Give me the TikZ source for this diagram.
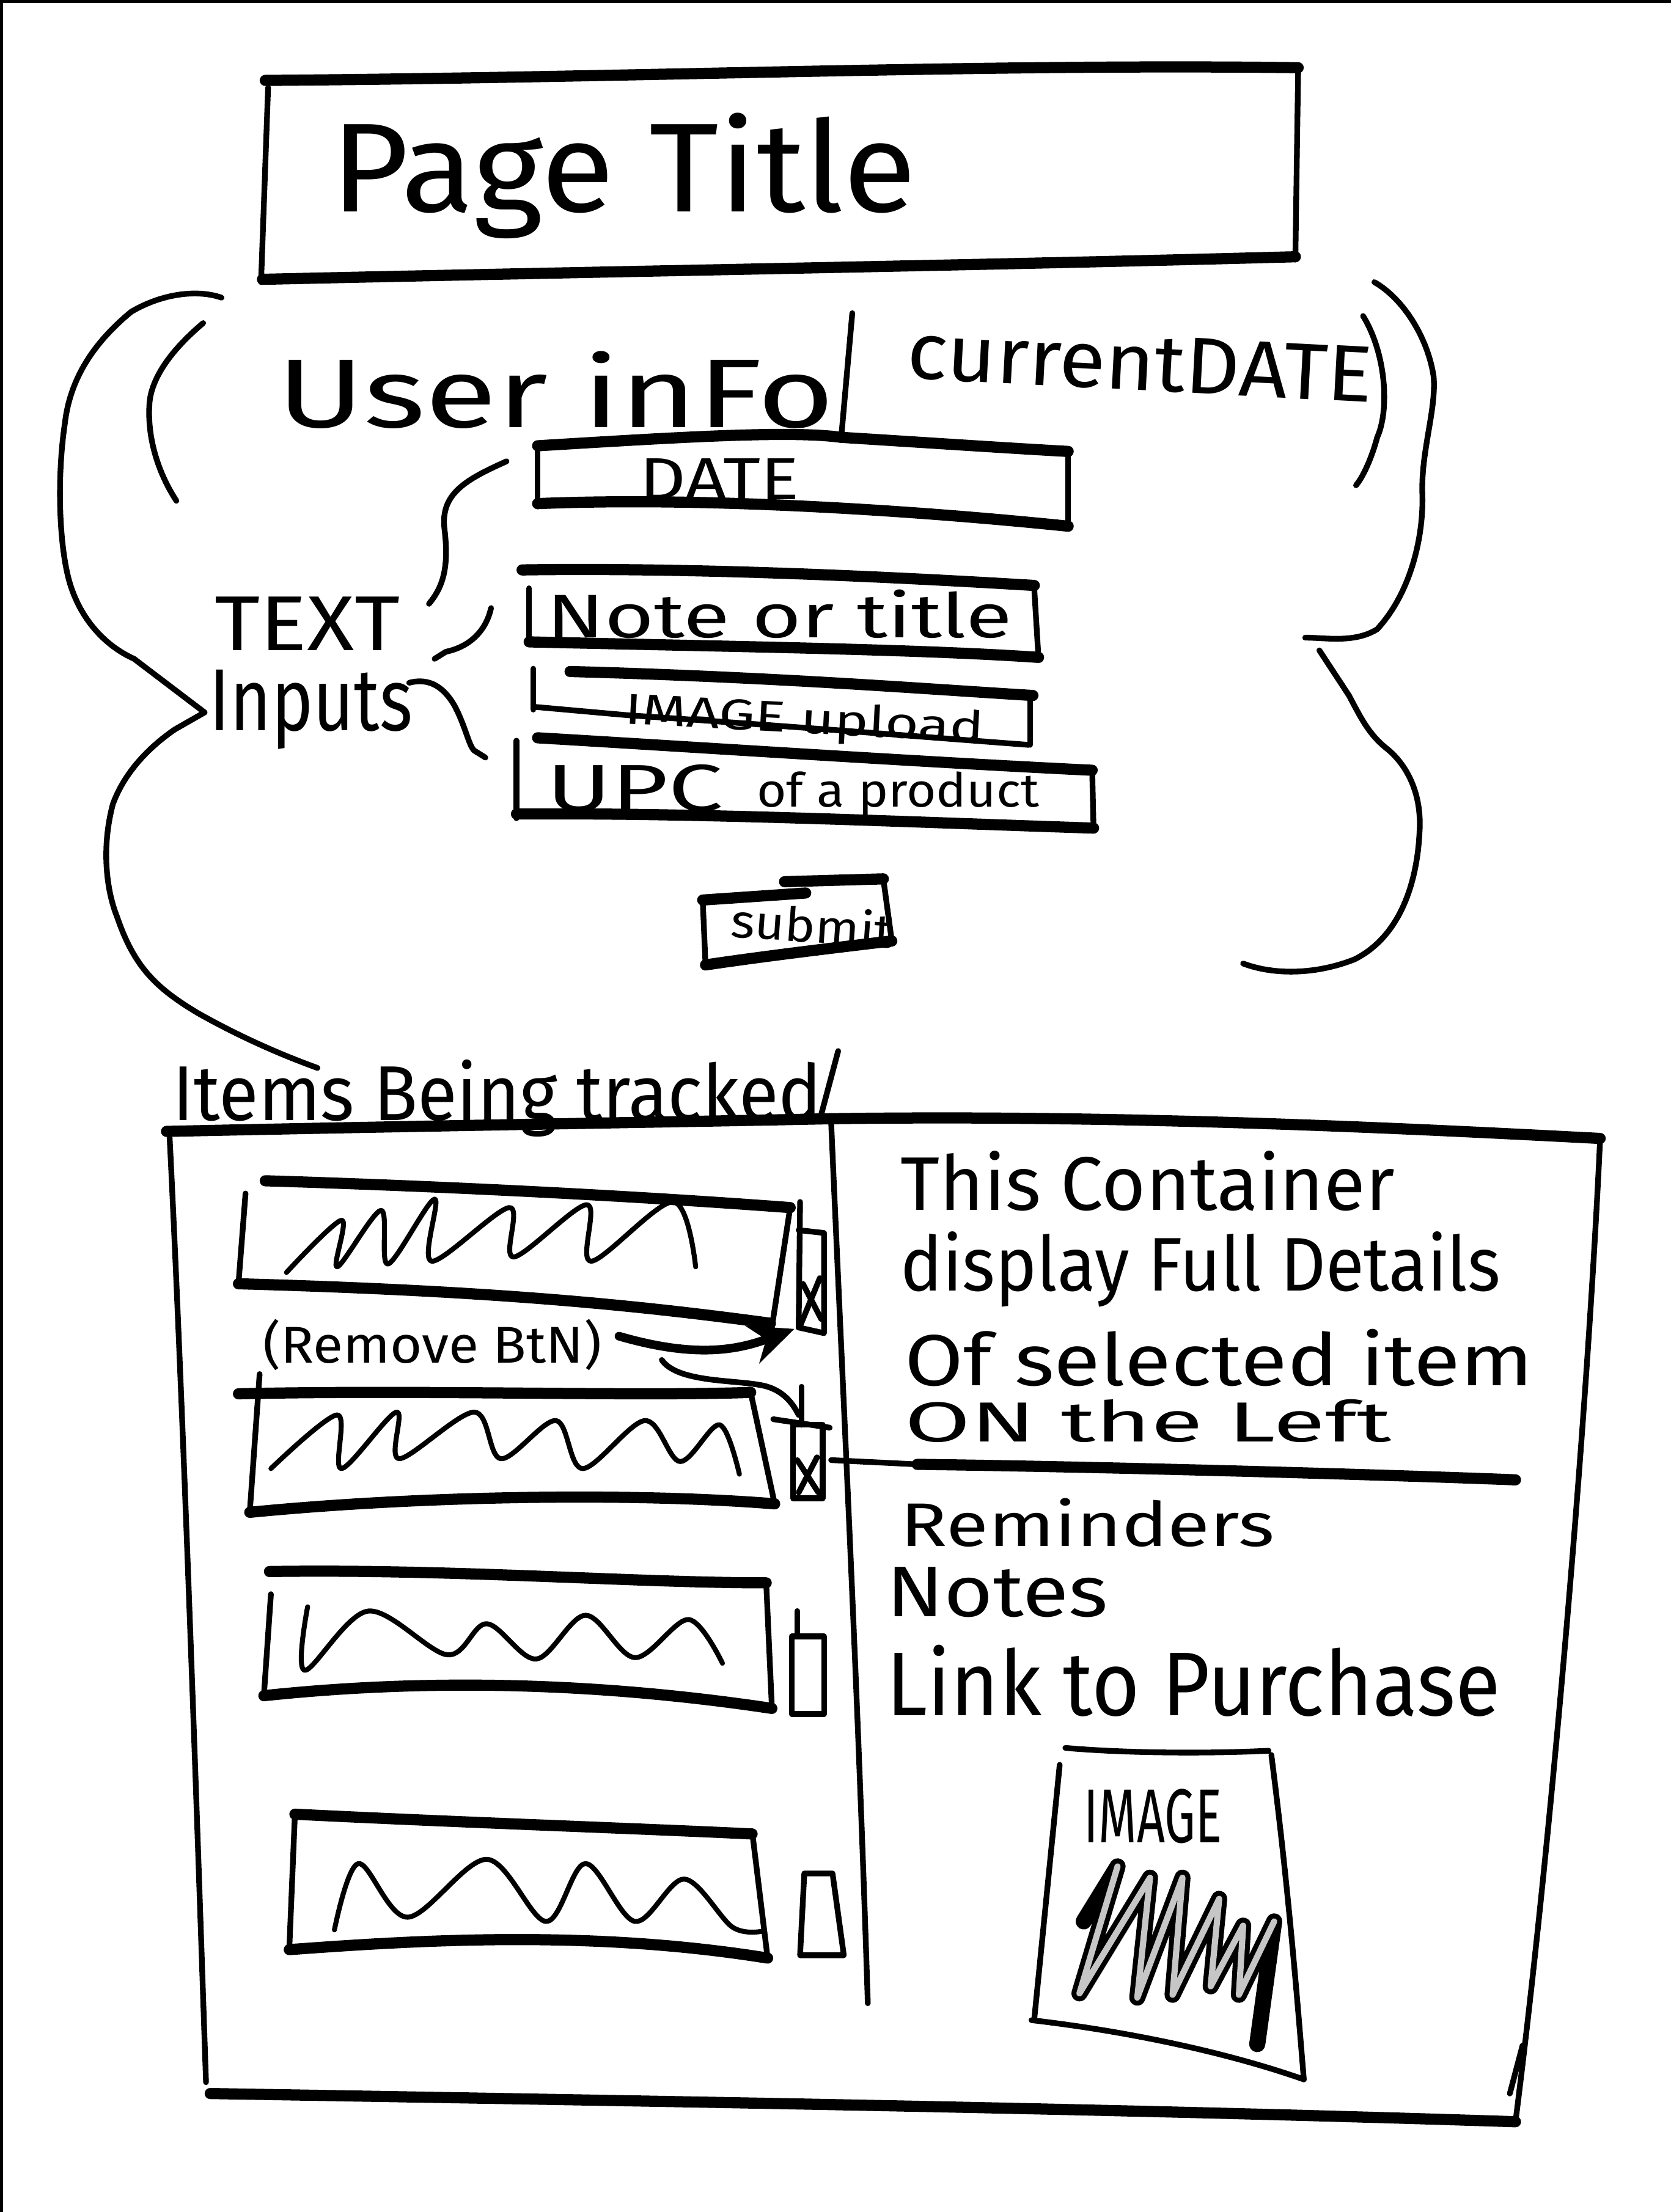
\documentclass[tikz,border=0pt]{standalone}
\usepackage{fontspec}
\setmainfont{Fira Sans}
\usepackage{graphicx}
\usetikzlibrary{arrows.meta}
\newcommand{\fitwh}[3]{\resizebox{#1}{#2}{#3}}
\begin{document}
\begin{tikzpicture}[x=0.02cm,y=-0.02cm,
  pen/.style={line width=2.3pt,line cap=round,line join=round},
  marker/.style={line width=4.5pt,line cap=round,line join=round},
  wavy/.style={line width=2pt,line cap=round,line join=round},
  lbl/.style={inner sep=0pt,anchor=base west}]
\useasboundingbox (0,0) rectangle (1184,1568);
% scan border
\draw[line width=1.5pt] (0,1) -- (1184,1);
\draw[line width=1.5pt] (1,0) -- (1,1568);

% ---------- Page title ----------
\draw[pen] (190,62) -- (185,200);
\draw[pen] (920,48) -- (918,184);
\draw[marker] (188,57) .. controls (450,55) and (700,45) .. (920,48);
\draw[marker] (186,198) .. controls (450,192) and (700,188) .. (918,182);
\node[lbl] (title) at (234,150) {\fitwh{8.3cm}{1.4cm}{Page Title}};

% ---------- cloud / braces ----------
\draw[pen] (157,211) .. controls (140,205) and (115,208) .. (93,221)
  .. controls (70,240) and (50,265) .. (46,300)
  .. controls (40,340) and (42,390) .. (50,415)
  .. controls (58,440) and (75,458) .. (95,467) -- (145,505) -- (124,517)
  .. controls (105,530) and (88,548) .. (80,570)
  .. controls (72,600) and (75,630) .. (83,650)
  .. controls (95,685) and (110,700) .. (140,718)
  .. controls (170,735) and (200,748) .. (225,757);
\draw[pen] (144,229) .. controls (125,245) and (108,265) .. (106,285)
  .. controls (104,310) and (112,335) .. (125,355);
\draw[pen] (974,200) .. controls (995,212) and (1012,240) .. (1016,267)
  .. controls (1018,290) and (1007,320) .. (1008,350)
  .. controls (1009,380) and (1000,420) .. (976,446)
  .. controls (960,456) and (940,452) .. (925,452);
\draw[pen] (966,224) .. controls (982,250) and (985,290) .. (976,310)
  .. controls (972,325) and (966,338) .. (961,344);
\draw[pen] (935,461) -- (956,493) .. controls (965,510) and (970,520) .. (982,530)
  .. controls (995,540) and (1008,560) .. (1006,590)
  .. controls (1004,630) and (990,665) .. (960,680)
  .. controls (935,690) and (905,692) .. (881,683);

% ---------- user info ----------
\node[lbl] (user) at (196,303) {\fitwh{7.9cm}{1.08cm}{User inFo}};
\draw[pen] (604,222) -- (596,312);
\node[lbl,rotate=-3] (cdate) at (642,268) {\fitwh{6.6cm}{0.78cm}{currentDATE}};

% ---------- DATE box ----------
\draw[marker] (381,316) .. controls (480,310) and (560,305) .. (596,310)
  .. controls (660,314) and (720,318) .. (757,320);
\draw[pen] (381,316) -- (381,359);
\draw[pen] (757,319) -- (757,372);
\draw[marker] (381,357) .. controls (500,352) and (650,362) .. (757,373);
\node[lbl] (date) at (453,354) {\fitwh{2.26cm}{0.58cm}{DATE}};

% ---------- text inputs label + brace ----------
\node[lbl] (text) at (152,461) {\fitwh{2.62cm}{0.76cm}{TEXT}};
\node[lbl] (inputs) at (148,518) {\fitwh{2.88cm}{0.86cm}{Inputs}};
\draw[pen] (359,327) .. controls (330,340) and (312,350) .. (315,375)
  .. controls (318,400) and (315,415) .. (304,428);
\draw[pen] (348,431) .. controls (345,445) and (335,458) .. (316,462) -- (308,467);
\draw[pen] (290,484) .. controls (305,480) and (315,488) .. (322,500)
  .. controls (330,515) and (332,528) .. (336,532) -- (344,537);

% ---------- note or title ----------
\draw[marker] (370,404) .. controls (500,402) and (650,410) .. (733,415);
\draw[pen] (375,417) -- (375,455);
\draw[pen] (733,418) -- (736,467);
\draw[marker] (375,455) .. controls (500,458) and (650,460) .. (736,466);
\node[lbl] (note) at (387,452) {\fitwh{6.6cm}{0.68cm}{Note or title}};

% ---------- image upload ----------
\draw[marker] (404,476) .. controls (550,480) and (650,488) .. (732,493);
\draw[pen] (378,474) -- (378,503);
\draw[pen] (730,493) -- (730,528);
\draw[pen] (378,501) -- (445,507) .. controls (550,514) and (650,522) .. (729,528);
\node[lbl,rotate=-3] (imgup) at (442,513) {\fitwh{5.1cm}{0.46cm}{IMAGE upload}};

% ---------- UPC ----------
\draw[marker] (381,523) .. controls (500,530) and (650,540) .. (774,546);
\draw[pen] (366,525) -- (366,580);
\draw[pen] (774,545) -- (775,588);
\draw[marker] (366,577) .. controls (500,576) and (650,583) .. (775,587);
\node[lbl] (upc) at (387,575) {\fitwh{2.5cm}{0.66cm}{UPC}};
\node[lbl] (ofprod) at (536,572) {\fitwh{4.0cm}{0.5cm}{of a product}};

% ---------- submit ----------
\draw[marker] (498,638) -- (571,633);
\draw[marker] (556,625) -- (626,623);
\draw[pen] (626,623) -- (632,667);
\draw[pen] (498,638) -- (500,684);
\draw[marker] (500,684) .. controls (540,678) and (590,672) .. (632,667);
\node[lbl,rotate=-4] (submit) at (517,664) {\fitwh{2.3cm}{0.52cm}{submit}};

% ---------- items being tracked ----------
\node[lbl] (items) at (122,794) {\fitwh{9.2cm}{0.86cm}{Items Being tracked}};
\draw[pen] (582,790) -- (594,745);

% container
\draw[marker] (118,802) .. controls (300,798) and (500,795) .. (589,793)
  .. controls (800,790) and (1000,800) .. (1134,807);
\draw[pen] (120,802) .. controls (130,1000) and (140,1300) .. (146,1476);
\draw[marker] (149,1484) .. controls (500,1490) and (800,1495) .. (1074,1504);
\draw[pen] (1134,807) .. controls (1125,1000) and (1100,1300) .. (1074,1504);
\draw[pen] (1079,1450) -- (1070,1484);
\draw[pen] (589,795) .. controls (598,1000) and (608,1200) .. (615,1420);
\draw[pen] (589,1035) -- (650,1038);
\draw[marker] (650,1038) .. controls (800,1040) and (1000,1046) .. (1074,1049);

% item 1
\draw[marker] (188,837) .. controls (350,842) and (480,850) .. (560,856);
\draw[pen] (174,846) -- (169,910);
\draw[pen] (560,856) -- (547,941);
\draw[marker] (169,910) .. controls (350,915) and (450,925) .. (546,938);
\draw[wavy] plot[smooth,tension=0.55] coordinates {(203,902) (242,865) (239,898) (270,858) (275,896) (308,850) (306,894) (361,856) (364,891) (416,854) (419,894) (477,852) (493,898)};
\draw[pen] (567,852) -- (566,941);
\draw[pen] (566,872) -- (584,874) -- (584,945) -- (566,941);
\draw[pen] (569,910) -- (582,935);
\draw[pen] (581,906) -- (567,940);
\coordinate (b1) at (563,942);

% remove btn
\node[lbl] (rmv) at (186,966) {\fitwh{4.8cm}{0.62cm}{(Remove BtN)}};
\draw[line width=3.5pt,line cap=round,-{Stealth[length=18pt,width=16pt]}] (rmv.east) ++(12,-6) .. controls (490,962) and (520,958) .. (b1);
\coordinate (b2) at (566,1003);
\draw[pen] (469,964) .. controls (480,980) and (520,978) .. (540,982)
  .. controls (555,985) and (562,995) .. (b2);

% item 2
\draw[marker] (169,988) .. controls (300,985) and (450,990) .. (532,987);
\draw[pen] (184,974) -- (177,1072);
\draw[pen] (532,987) -- (549,1066);
\draw[marker] (177,1072) .. controls (300,1060) and (450,1058) .. (549,1066);
\draw[wavy] plot[smooth,tension=0.55] coordinates {(192,1041) (239,1003) (242,1041) (281,1001) (283,1034) (336,1001) (355,1034) (394,1007) (413,1041) (457,1007) (482,1036) (510,1010) (524,1045)};
\draw[pen] (568,983) -- (568,1010);
\draw[pen] (562,1010) rectangle (583,1062);
\draw[pen] (548,1006) -- (588,1012);
\draw[pen] (565,1035) -- (580,1058);
\draw[pen] (579,1033) -- (566,1058);

% item 3
\draw[marker] (191,1114) .. controls (320,1112) and (450,1122) .. (543,1122);
\draw[pen] (192,1130) -- (187,1202);
\draw[pen] (543,1122) -- (547,1210);
\draw[marker] (187,1202) .. controls (300,1190) and (420,1192) .. (547,1211);
\draw[wavy] plot[smooth,tension=0.55] coordinates {(218,1139) (216,1184) (261,1142) (317,1173) (345,1151) (380,1176) (415,1145) (450,1175) (488,1148) (512,1179)};
\draw[pen] (565,1142) -- (565,1160);
\draw[pen] (561,1160) rectangle (584,1215);

% item 4
\draw[marker] (209,1286) .. controls (330,1292) and (450,1296) .. (533,1300);
\draw[pen] (209,1286) -- (205,1382);
\draw[pen] (533,1298) -- (544,1388);
\draw[marker] (205,1382) .. controls (300,1375) and (420,1368) .. (544,1388);
\draw[wavy] plot[smooth,tension=0.55] coordinates {(237,1368) (254,1321) (289,1359) (345,1318) (387,1362) (415,1321) (450,1362) (485,1332) (519,1366) (540,1369)};
\draw[pen] (570,1328) -- (590,1328) -- (598,1386) -- (567,1386) -- cycle;

% ---------- right panel text ----------
\node[lbl] (t1) at (638,858) {\fitwh{7.0cm}{0.84cm}{This Container}};
\node[lbl] (t2) at (638,915) {\fitwh{8.5cm}{0.84cm}{display Full Details}};
\node[lbl] (t3) at (641,982) {\fitwh{8.9cm}{0.8cm}{Of selected item}};
\node[lbl] (t4) at (641,1022) {\fitwh{6.9cm}{0.6cm}{ON the Left}};
\node[lbl] (t5) at (638,1096) {\fitwh{5.3cm}{0.68cm}{Reminders}};
\node[lbl] (t6) at (628,1146) {\fitwh{3.14cm}{0.7cm}{Notes}};
\node[lbl] (t7) at (628,1216) {\fitwh{8.7cm}{1.0cm}{Link to Purchase}};

% ---------- image box ----------
\draw[pen] (755,1239) .. controls (800,1243) and (860,1243) .. (899,1241);
\draw[pen] (901,1244) .. controls (912,1330) and (918,1400) .. (924,1474);
\draw[pen] (731,1432) .. controls (800,1440) and (870,1455) .. (924,1474);
\draw[pen] (751,1251) -- (733,1431);
\node[lbl] (imgl) at (768,1306) {\fitwh{1.95cm}{0.76cm}{IMAGE}};
\draw[line width=6.5pt,line cap=round,line join=round] (768,1362) -- (792,1323) -- (765,1413) -- (815,1331) -- (806,1416) -- (838,1331) -- (831,1414) -- (864,1346) -- (858,1408) -- (881,1365) -- (878,1414) -- (903,1362) -- (891,1449);
\draw[line width=2.5pt,line cap=round,line join=round,gray!45] (792,1323) -- (765,1413) -- (815,1331) -- (806,1416) -- (838,1331) -- (831,1414) -- (864,1346) -- (858,1408) -- (881,1365) -- (878,1414) -- (903,1362);
\end{tikzpicture}
\end{document}
